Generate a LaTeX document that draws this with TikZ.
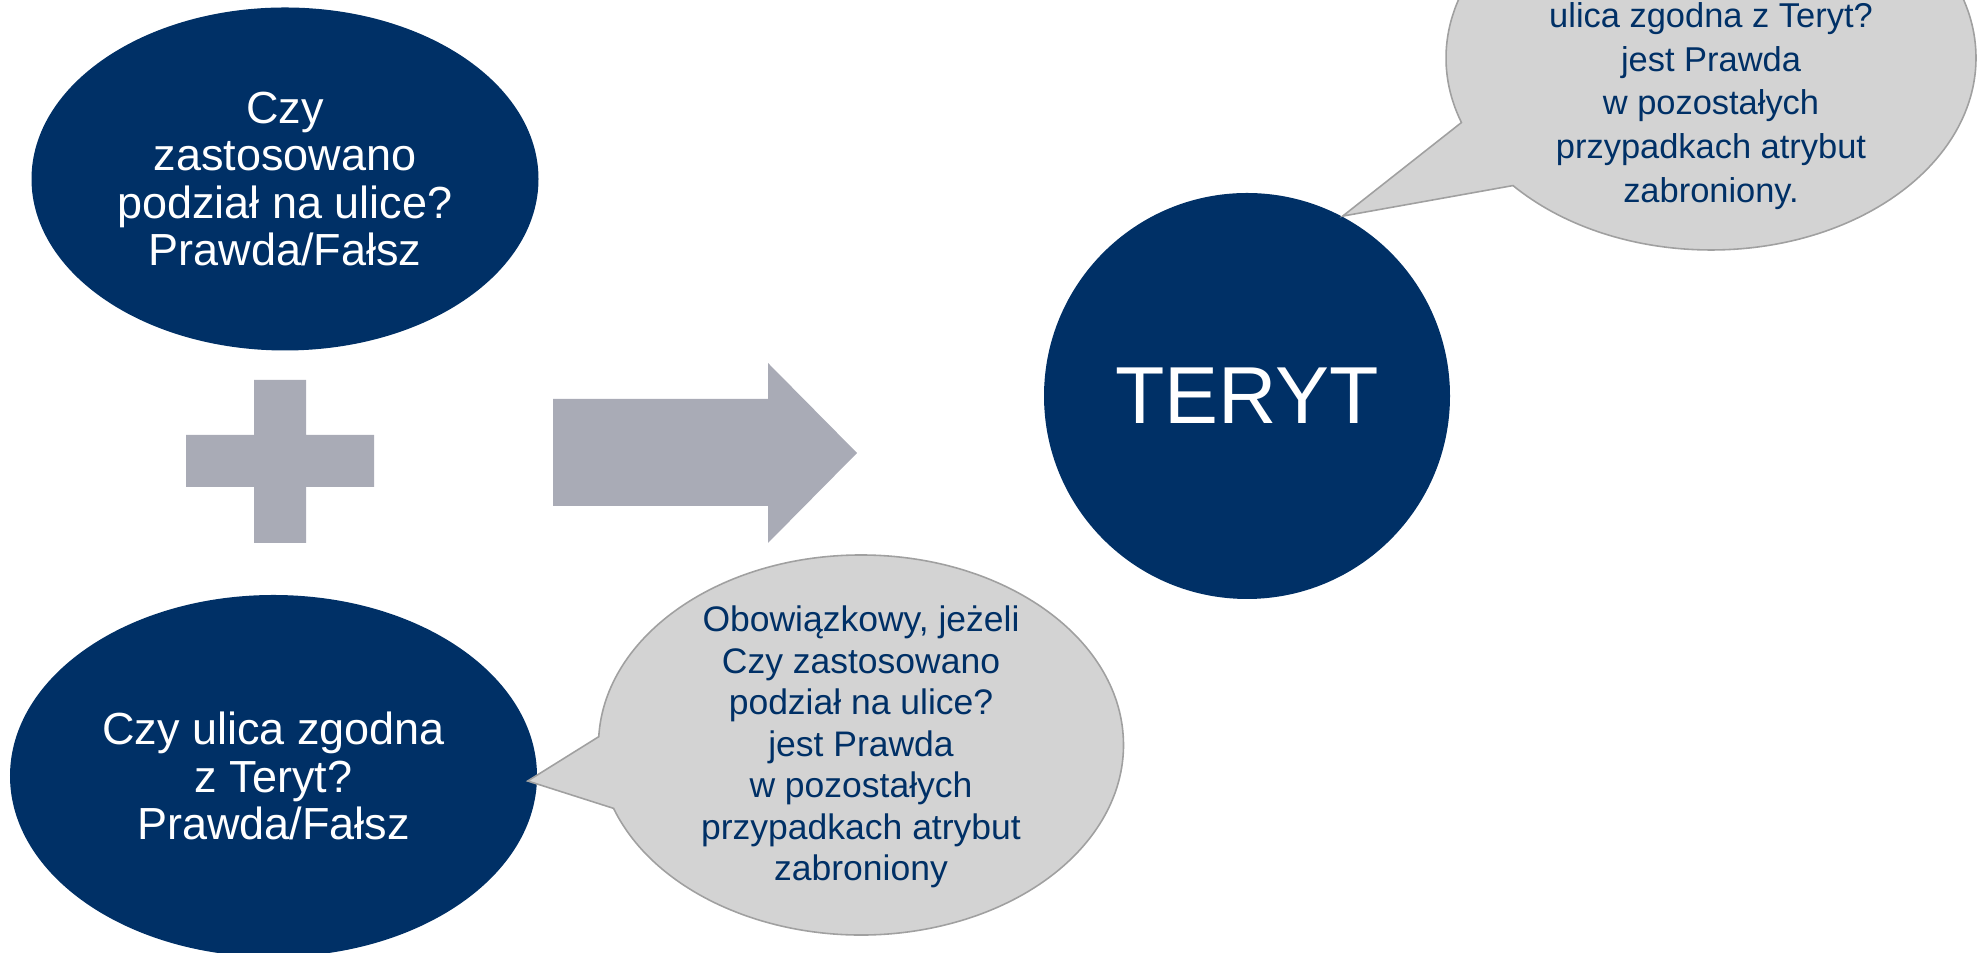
\documentclass[tikz,border=0pt]{standalone}
\usepackage{fontspec}
\setmainfont{Liberation Sans}
\usepackage{tikz}
\usetikzlibrary{shapes.geometric,shapes.callouts}
\definecolor{navy}{HTML}{003066}
\definecolor{notegray}{HTML}{D3D3D3}
\definecolor{noteline}{HTML}{A0A0A0}
\definecolor{signgray}{HTML}{A9ABB6}
\tikzset{
  every picture/.style={line join=miter},
  question/.style={ellipse, fill=navy, text=white, align=center, inner sep=0pt,
    font=\fontsize{12.8}{13.4}\selectfont},
  bigcircle/.style={circle, fill=navy, text=white, inner sep=0pt,
    minimum size=4.06cm, font=\fontsize{23}{26}\selectfont},
  note/.style={ellipse callout, fill=notegray, draw=noteline, line width=0.45pt,
    callout pointer arc=22, inner sep=0pt, minimum width=5.25cm, minimum height=3.8cm},
  notetext/.style={text=navy, align=center, inner sep=0pt,
    font=\fontsize{9.8}{12.4}\selectfont},
  sign/.style={fill=signgray},
}

\begin{document}
\begin{tikzpicture}
\useasboundingbox (0,0) rectangle (19.77,9.53);
\clip (0,0) rectangle (19.77,9.53);
% two questions
\node[question, minimum width=5.07cm, minimum height=3.43cm] (q1) at (2.850,7.740)
  {Czy\\zastosowano\\podział na ulice?\\Prawda/Fałsz};
\node[question, minimum width=5.27cm, minimum height=3.62cm] (q2) at (2.735,1.770)
  {Czy ulica zgodna\\z Teryt?\\Prawda/Fałsz};
% plus and arrow
\fill[sign] (2.54,4.10) -- (3.06,4.10) -- (3.06,4.66) -- (3.74,4.66) -- (3.74,5.18)
  -- (3.06,5.18) -- (3.06,5.73) -- (2.54,5.73) -- (2.54,5.18) -- (1.86,5.18)
  -- (1.86,4.66) -- (2.54,4.66) -- cycle;
\fill[sign] (5.53,4.47) -- (7.68,4.47) -- (7.68,4.10) -- (8.57,5.00) -- (7.68,5.90)
  -- (7.68,5.54) -- (5.53,5.54) -- cycle;
\node[bigcircle] (teryt) at (12.470,5.570) {TERYT};
% notes
\node[note, callout absolute pointer={([shift={(-0.10,-0.05)}]q2.east)}] (note1) at (8.610,2.080)
  {};
\node[notetext, font=\fontsize{10.1}{11.8}\selectfont] (note1text) at (8.610,2.060)
  {Obowiązkowy, jeżeli\\Czy zastosowano\\podział na ulice?\\jest Prawda\\w pozostałych\\przypadkach atrybut\\zabroniony};
\node[note, minimum width=5.30cm, minimum height=3.84cm,
  callout absolute pointer={(teryt.62)}] (note2) at (17.110,8.950) {};
\node[notetext] (note2text) at (17.110,8.470)
  {ulica zgodna z Teryt?\\jest Prawda\\w pozostałych\\przypadkach atrybut\\zabroniony.};
\end{tikzpicture}
\end{document}
